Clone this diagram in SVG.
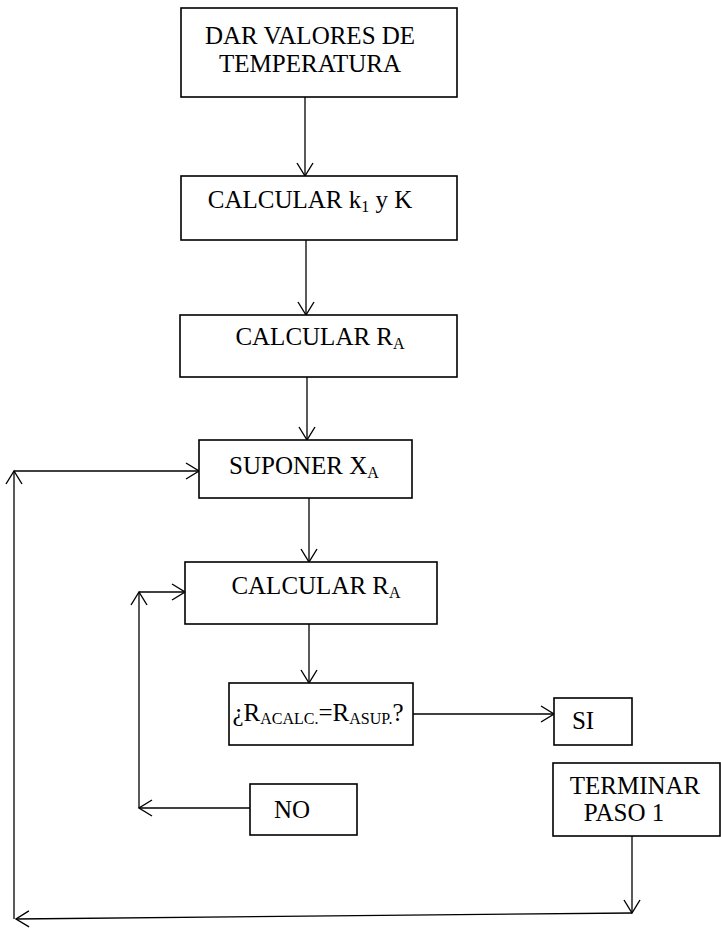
<svg xmlns="http://www.w3.org/2000/svg" width="721" height="938" viewBox="0 0 721 938">
<style>
.box{fill:#fff;stroke:#000;stroke-width:1.6}
.t{font-family:"Liberation Serif","Times New Roman",serif;font-size:25px;fill:#000}
.s{font-size:16px}
.c{fill:none;stroke:#000;stroke-width:1.3}
</style>
<defs>
<marker id="ah" markerUnits="userSpaceOnUse" markerWidth="16" markerHeight="18" refX="14" refY="9" orient="auto">
<path d="M1,1 L14,9 L1,17" fill="none" stroke="#000" stroke-width="1.4"/>
</marker>
</defs>
<rect width="721" height="938" fill="#fff"/>
<g id="connectors">
<line class="c" x1="305" y1="97" x2="305" y2="176" marker-end="url(#ah)"/>
<line class="c" x1="306" y1="240" x2="306" y2="315" marker-end="url(#ah)"/>
<line class="c" x1="307" y1="377" x2="307" y2="440" marker-end="url(#ah)"/>
<line class="c" x1="309" y1="498" x2="309" y2="562" marker-end="url(#ah)"/>
<line class="c" x1="309" y1="624" x2="309" y2="683" marker-end="url(#ah)"/>
<line class="c" x1="413" y1="714" x2="554" y2="714" marker-end="url(#ah)"/>
<line class="c" x1="250" y1="808" x2="139" y2="808" marker-end="url(#ah)"/>
<line class="c" x1="139" y1="808" x2="139" y2="592" marker-end="url(#ah)"/>
<line class="c" x1="139" y1="592" x2="185" y2="592" marker-end="url(#ah)"/>
<line class="c" x1="632" y1="836" x2="632" y2="913" marker-end="url(#ah)"/>
<line class="c" x1="632" y1="913" x2="16" y2="919" marker-end="url(#ah)"/>
<line class="c" x1="14" y1="919" x2="14" y2="471" marker-end="url(#ah)"/>
<line class="c" x1="14" y1="471" x2="199" y2="471" marker-end="url(#ah)"/>
</g>
<g id="n1"><rect class="box" x="181" y="8" width="276" height="89"/>
<text class="t" x="310" y="44" text-anchor="middle">DAR VALORES DE</text>
<text class="t" x="310" y="72" text-anchor="middle">TEMPERATURA</text></g>
<g id="n2"><rect class="box" x="181" y="176" width="276" height="64"/>
<text class="t" x="310" y="208" text-anchor="middle">CALCULAR k<tspan class="s" dy="4">1</tspan><tspan dy="-4"> y K</tspan></text></g>
<g id="n3"><rect class="box" x="180" y="315" width="277" height="62"/>
<text class="t" x="320" y="345" text-anchor="middle">CALCULAR R<tspan class="s" dy="4">A</tspan></text></g>
<g id="n4"><rect class="box" x="199" y="440" width="213" height="58"/>
<text class="t" x="304" y="474" text-anchor="middle">SUPONER X<tspan class="s" dy="4">A</tspan></text></g>
<g id="n5"><rect class="box" x="185" y="562" width="252" height="62"/>
<text class="t" x="316" y="594" text-anchor="middle">CALCULAR R<tspan class="s" dy="4">A</tspan></text></g>
<g id="n6"><rect class="box" x="229" y="683" width="184" height="62"/>
<text class="t" x="318" y="721" text-anchor="middle">¿R<tspan class="s" dy="3">ACALC.</tspan><tspan dy="-3">=R</tspan><tspan class="s" dy="3">ASUP.</tspan><tspan dy="-3">?</tspan></text></g>
<g id="n7"><rect class="box" x="554" y="698" width="78" height="47"/>
<text class="t" x="583" y="729" text-anchor="middle">SI</text></g>
<g id="n8"><rect class="box" x="250" y="784" width="107" height="51"/>
<text class="t" x="292" y="818" text-anchor="middle">NO</text></g>
<g id="n9"><rect class="box" x="553" y="763" width="167" height="73"/>
<text class="t" x="635" y="794" text-anchor="middle">TERMINAR</text>
<text class="t" x="624" y="821" text-anchor="middle">PASO 1</text></g>
</svg>
